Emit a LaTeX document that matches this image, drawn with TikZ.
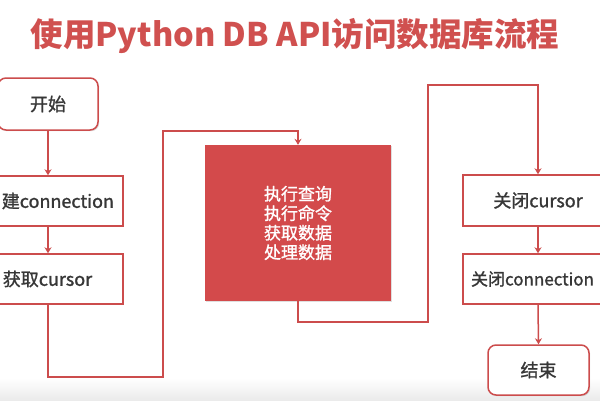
\documentclass[tikz,border=0pt]{standalone}
\usepackage{fontspec}
\setmainfont{Noto Sans CJK SC}
\newfontfamily\lblfont[RawFeature={embolden=1.3}]{Noto Sans CJK SC}
\usetikzlibrary{arrows.meta,shadows}
\definecolor{lnred}{RGB}{204,76,76}
\definecolor{boxred}{RGB}{211,74,75}
\definecolor{titred}{RGB}{208,80,79}
\definecolor{txtgray}{RGB}{55,55,55}
\tikzset{
  conn/.style={draw=lnred, line width=1.5pt, -{Stealth[length=6pt,width=7pt]}},
  box/.style={draw=lnred, line width=1.5pt, fill=white, inner sep=0pt, text=txtgray,
    font=\lblfont\fontsize{18}{21}\selectfont,
    drop shadow={opacity=0.25, shadow xshift=1.2pt, shadow yshift=-1.2pt}},
  rbox/.style={box, rounded corners=8pt},
}
\begin{document}
\begin{tikzpicture}[x=1pt,y=-1pt]
\clip (0,0) rectangle (600,400);
\fill[white] (0,0) rectangle (600,400);
\shade[top color=white, bottom color=black!8] (0,378) rectangle (600,400);
\node[text=titred, font=\fontsize{32.5}{36}\selectfont\bfseries] (title) at (295,36) {使用Python DB API访问数据库流程};

\node[rbox, minimum width=100pt, minimum height=52pt] (start) at (48,104) {开始};
\node[box, text width=133pt, inner xsep=9pt, align=right, minimum height=50pt] (conn) at (47.5,201) {建connection};
\node[box, minimum width=151pt, minimum height=50pt] (cur) at (47.5,279) {获取cursor};

\node[draw=none, fill=boxred, text=white, minimum width=186pt, minimum height=156pt, inner sep=0pt, align=center,
  font=\lblfont\fontsize{17}{19.5}\selectfont,
  drop shadow={opacity=0.25, shadow xshift=1.2pt, shadow yshift=-1.2pt}] (work) at (298,223)
  {执行查询\\执行命令\\获取数据\\处理数据};

\node[box, minimum width=150pt, minimum height=51pt] (cc) at (538,200.5) {关闭cursor};
\node[box, text width=134pt, inner xsep=8pt, align=left, minimum height=50pt,
  font=\lblfont\fontsize{17}{20}\selectfont] (ccn) at (538,279) {关闭connection};
\node[rbox, minimum width=101pt, minimum height=50pt] (end) at (538.5,370) {结束};

\coordinate (p1) at (163,377);
\coordinate (p2) at (163,131);
\coordinate (p3) at (428,322);
\coordinate (p4) at (428,85);

\draw[conn] (start.south) -- (conn.north -| start.south);
\draw[conn] (conn.south -| start.south) -- (cur.north -| start.south);
\draw[conn] (cur.south -| start.south) |- (p1) -- (p2) -| (work.north);
\draw[conn] (work.south) |- (p3) -- (p4) -| (cc.north);
\draw[conn] (cc.south) -- (ccn.north);
\draw[conn] (ccn.south) -- (end.north);
\end{tikzpicture}
\end{document}
